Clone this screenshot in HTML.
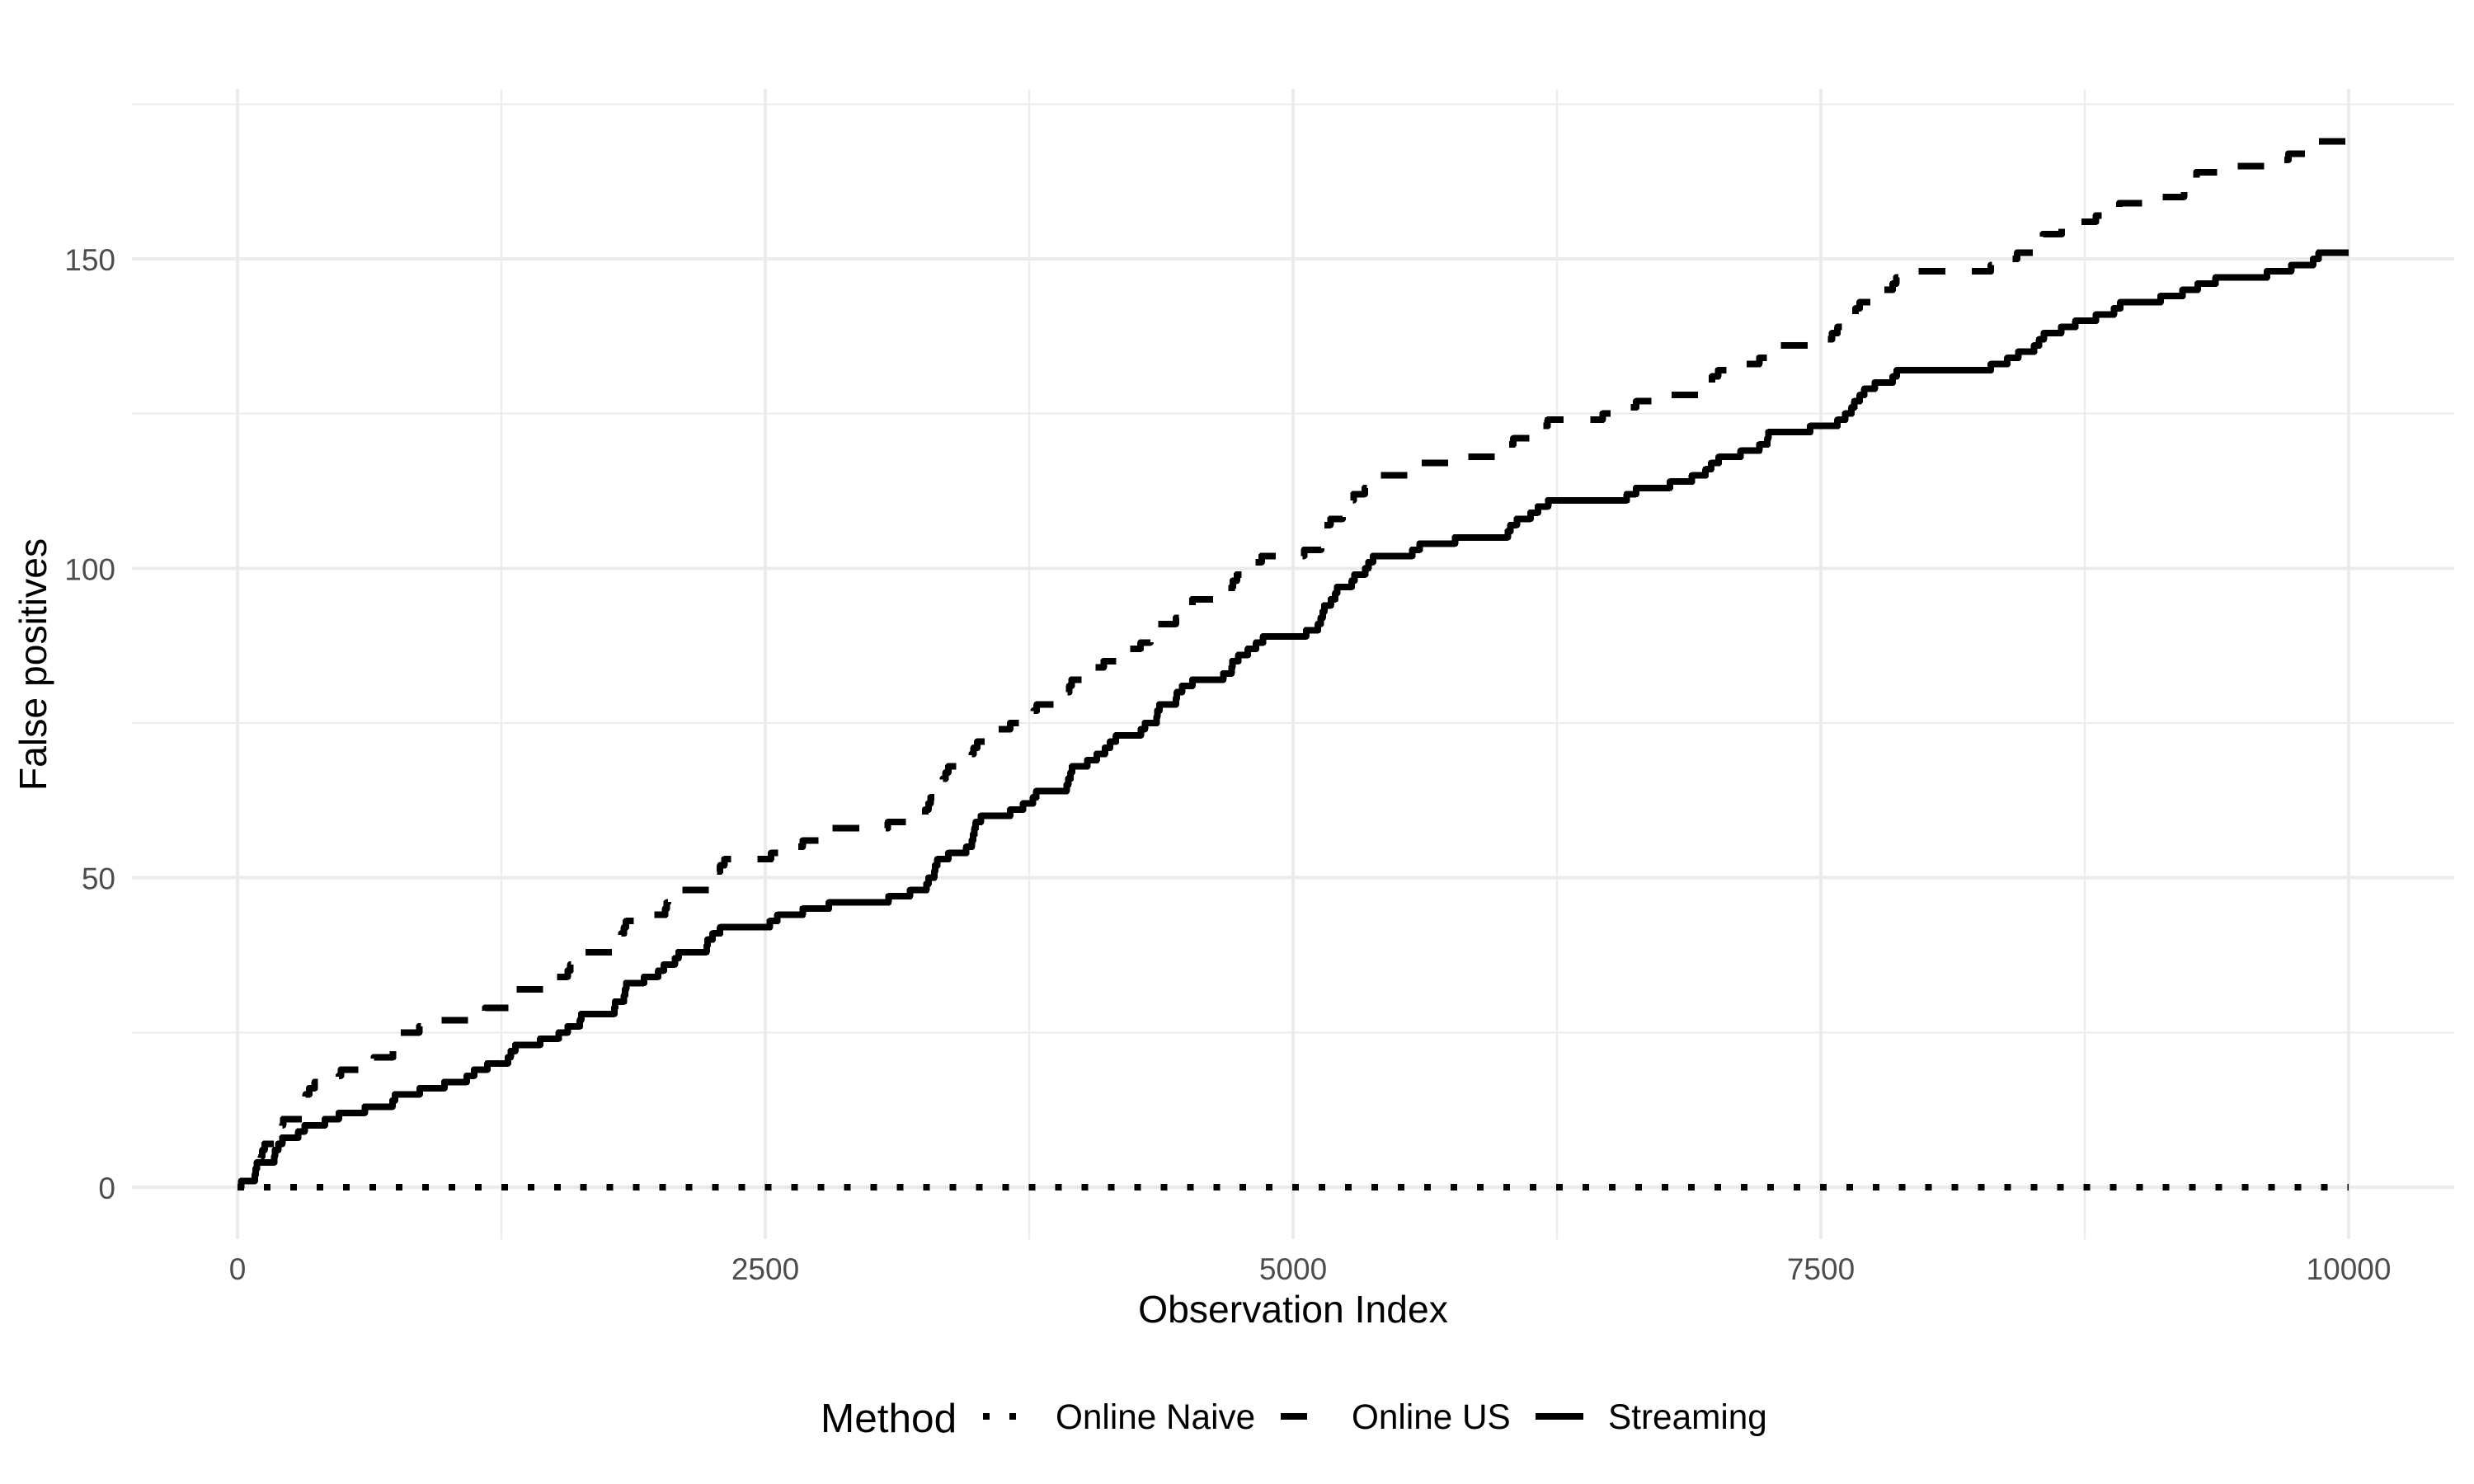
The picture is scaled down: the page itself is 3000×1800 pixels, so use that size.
<!DOCTYPE html>
<html lang="en">
<head>
<meta charset="utf-8">
<title>False positives by observation index</title>
<style>
html,body{margin:0;padding:0;background:#fff;}
svg{display:block;font-family:"Liberation Sans",Arial,sans-serif;}
.grid-major{stroke:#ebebeb;stroke-width:4;shape-rendering:crispEdges;}
.grid-minor{stroke:#ebebeb;stroke-width:2;shape-rendering:crispEdges;}
.tick{fill:#4d4d4d;font-size:37px;}
.title{fill:#000;font-size:46.3px;}
.legend-title{fill:#000;font-size:49.5px;}
.legend-label{fill:#000;font-size:42.3px;}
.series{fill:none;stroke:#000;stroke-width:8;stroke-linecap:butt;stroke-linejoin:round;shape-rendering:crispEdges;}
</style>
</head>
<body>
<svg id="chart" xmlns="http://www.w3.org/2000/svg" width="3000" height="1800" viewBox="0 0 3000 1800">
  <rect x="0" y="0" width="3000" height="1800" fill="#fff"/>
  <g id="grid"></g>
  <g id="marks"></g>
  <g id="xticks"></g>
  <g id="yticks"></g>
  <text class="title" x="1568" y="1604" text-anchor="middle">Observation Index</text>
  <text class="title" transform="translate(56 806) rotate(-90)" text-anchor="middle">False positives</text>
  <g>
    <text class="legend-title" x="995" y="1737">Method</text>
    <line class="series" x1="1192" y1="1718" x2="1250" y2="1718" stroke-dasharray="8 24"/>
    <text class="legend-label" x="1280" y="1733">Online Naive</text>
    <line class="series" x1="1553" y1="1718" x2="1611" y2="1718" stroke-dasharray="32 32"/>
    <text class="legend-label" x="1639" y="1733">Online US</text>
    <line class="series" x1="1862" y1="1718" x2="1920" y2="1718"/>
    <text class="legend-label" x="1950" y="1733">Streaming</text>
  </g>
</svg>
<script>
const xTickValues = [0, 2500, 5000, 7500, 10000];
const xTickLabels = ["0", "2500", "5000", "7500", "10000"];
const xMinorValues = [1250, 3750, 6250, 8750];
const yTickValues = [0, 50, 100, 150];
const yTickLabels = ["0", "50", "100", "150"];
const yMinorValues = [25, 75, 125, 175];

const naiveX = [0, 10000];
const naiveY = [0, 0];

const usX = [18,82,86,92,112,118,128,200,205,212,216,307,311,316,323,340,366,480,490,626,646,737,750,758,766,861,965,1147,1173,1297,1306,1316,1499,1505,1564,1577,1622,1642,1785,1798,1818,1831,1840,1967,2026,2033,2039,2098,2247,2260,2270,2286,2306,2527,2645,2677,2768,2797,3081,3211,3257,3273,3283,3302,3322,3341,3354,3367,3465,3478,3487,3504,3562,3589,3660,3725,3771,3786,3908,3930,3940,3951,4018,4038,4103,4174,4207,4278,4324,4333,4350,4445,4474,4506,4523,4702,4708,4715,4734,4773,4799,4851,5053,5133,5135,5138,5140,5177,5235,5261,5281,5287,5340,5372,5392,5554,5593,5802,5978,6017,6043,6134,6173,6206,6466,6577,6625,6772,6948,6977,6984,7013,7124,7208,7267,7293,7514,7553,7579,7612,7638,7664,7684,7755,7788,7840,7857,7938,8305,8383,8430,8517,8536,8552,8641,8706,8803,8875,8914,9103,9220,9252,9263,9279,9461,9680,9715,9812,9838];
const usY = [1,2,3,4,5,6,7,8,9,10,11,12,13,14,15,16,17,18,19,20,21,22,23,24,25,26,27,28,29,30,31,32,33,34,35,36,37,38,39,40,41,42,43,44,45,46,47,48,49,50,51,52,53,54,55,56,57,58,59,60,61,62,63,64,65,66,67,68,69,70,71,72,73,74,75,76,77,78,79,80,81,82,83,84,85,86,87,88,89,90,91,92,93,94,95,96,97,98,99,100,101,102,103,104,105,106,107,108,109,110,111,112,113,114,115,116,117,118,119,120,121,122,123,124,125,126,127,128,129,130,131,132,133,134,135,136,137,138,139,140,141,142,143,144,145,146,147,148,149,150,151,152,153,154,155,156,157,158,159,160,161,162,163,164,165,166,167,168,169];

const streamX = [18,82,86,92,174,177,193,212,288,318,414,480,603,734,746,863,980,1086,1121,1184,1281,1294,1316,1434,1522,1564,1622,1628,1785,1789,1831,1836,1841,1926,1993,2020,2072,2089,2222,2226,2250,2286,2521,2557,2677,2801,3083,3185,3263,3273,3300,3304,3315,3367,3452,3478,3484,3491,3497,3521,3660,3721,3768,3784,3927,3935,3946,3953,4025,4070,4109,4133,4161,4279,4298,4354,4357,4367,4445,4450,4474,4523,4669,4708,4712,4741,4786,4825,4858,5062,5118,5131,5140,5148,5179,5200,5209,5278,5291,5342,5357,5379,5565,5600,5767,6017,6030,6060,6125,6160,6208,6581,6625,6785,6889,6954,6980,7016,7120,7208,7247,7251,7449,7579,7615,7645,7659,7684,7706,7755,7840,7859,8305,8383,8435,8510,8534,8556,8638,8706,8803,8888,8918,9109,9213,9285,9370,9613,9728,9832,9858];
const streamY = [1,2,3,4,5,6,7,8,9,10,11,12,13,14,15,16,17,18,19,20,21,22,23,24,25,26,27,28,29,30,31,32,33,34,35,36,37,38,39,40,41,42,43,44,45,46,47,48,49,50,51,52,53,54,55,56,57,58,59,60,61,62,63,64,65,66,67,68,69,70,71,72,73,74,75,76,77,78,79,80,81,82,83,84,85,86,87,88,89,90,91,92,93,94,95,96,97,98,99,100,101,102,103,104,105,106,107,108,109,110,111,112,113,114,115,116,117,118,119,120,121,122,123,124,125,126,127,128,129,130,131,132,133,134,135,136,137,138,139,140,141,142,143,144,145,146,147,148,149,150,151];

const NS = "http://www.w3.org/2000/svg";
const panelLeft = 160, panelRight = 2976, panelTop = 108, panelBottom = 1503;
const xDomainEnd = 10000;
function sx(v) { return 288 + v * 2560 / 10000; }
function sy(v) { return 1440 - v * 1126 / 150; }

function stepPath(xs, ys) {
  let d = "M" + sx(0) + " " + sy(0);
  for (let i = 0; i < xs.length; i++) {
    d += "H" + sx(xs[i]).toFixed(2) + "V" + sy(ys[i]).toFixed(2);
  }
  d += "H" + sx(xDomainEnd);
  return d;
}

const grid = document.getElementById("grid");
function gridLine(cls, x1, y1, x2, y2, name) {
  const l = document.createElementNS(NS, "line");
  l.setAttribute("class", cls);
  l.setAttribute("x1", x1);
  l.setAttribute("y1", y1);
  l.setAttribute("x2", x2);
  l.setAttribute("y2", y2);
  
  
  grid.appendChild(l);
}
yMinorValues.forEach(v => gridLine("grid-minor", panelLeft, sy(v), panelRight, sy(v), "y-minor-gridline-" + v));
xMinorValues.forEach(v => gridLine("grid-minor", sx(v), panelTop, sx(v), panelBottom, "x-minor-gridline-" + v));
yTickValues.forEach(v => gridLine("grid-major", panelLeft, sy(v), panelRight, sy(v), "y-major-gridline-" + v));
xTickValues.forEach(v => gridLine("grid-major", sx(v), panelTop, sx(v), panelBottom, "x-major-gridline-" + v));

const xticks = document.getElementById("xticks");
xTickValues.forEach((v, i) => {
  const t = document.createElementNS(NS, "text");
  t.setAttribute("class", "tick");
  t.setAttribute("x", sx(v));
  t.setAttribute("y", 1552);
  t.setAttribute("text-anchor", "middle");
  
  
  t.textContent = xTickLabels[i];
  xticks.appendChild(t);
});
const yticks = document.getElementById("yticks");
yTickValues.forEach((v, i) => {
  const t = document.createElementNS(NS, "text");
  t.setAttribute("class", "tick");
  t.setAttribute("x", 140);
  t.setAttribute("y", sy(v) + 14);
  t.setAttribute("text-anchor", "end");
  
  
  t.textContent = yTickLabels[i];
  yticks.appendChild(t);
});

const marks = document.getElementById("marks");

const naivePath = document.createElementNS(NS, "path");
naivePath.setAttribute("class", "series");
naivePath.setAttribute("d", stepPath(naiveX, naiveY));
naivePath.setAttribute("stroke-dasharray", "8 23.98");


marks.appendChild(naivePath);

const usPath = document.createElementNS(NS, "path");
usPath.setAttribute("class", "series");
usPath.setAttribute("d", stepPath(usX, usY));
usPath.setAttribute("stroke-dasharray", "32.14 32.14");


marks.appendChild(usPath);

const streamPath = document.createElementNS(NS, "path");
streamPath.setAttribute("class", "series");
streamPath.setAttribute("d", stepPath(streamX, streamY));


marks.appendChild(streamPath);
</script>
</body>
</html>
